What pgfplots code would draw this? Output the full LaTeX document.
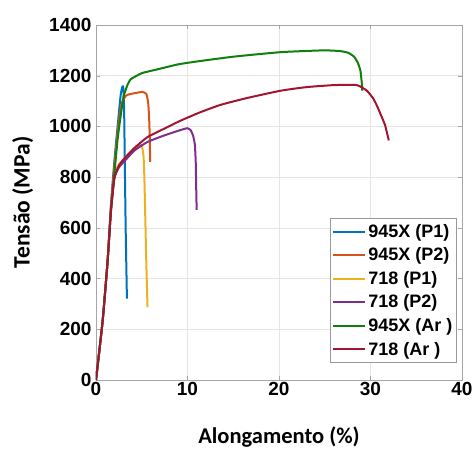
\documentclass[border=0pt]{standalone}
\usepackage{fontspec}
\setmainfont{Liberation Sans}
\newfontfamily\calibri{Carlito}
\usepackage{pgfplots}
\pgfplotsset{compat=1.18}
\definecolor{c1}{rgb}{0,0.447,0.741}
\definecolor{c2}{rgb}{0.85,0.325,0.098}
\definecolor{c3}{rgb}{0.929,0.694,0.125}
\definecolor{c4}{rgb}{0.494,0.184,0.556}
\definecolor{c5}{rgb}{0.05,0.5,0.05}
\definecolor{c6}{rgb}{0.635,0.078,0.184}
\pgfplotstableread{
x y
0 0
0.73 235
1.27 470
1.63 690
2.0 860
2.36 1000
2.7 1125
2.9 1158
3.0 1150
3.08 1050
3.16 820
3.25 580
3.38 321
}\tblue
\begin{document}
\begin{tikzpicture}
\begin{axis}[
  scale only axis,
  width=366pt, height=355pt,
  xmin=0, xmax=40, ymin=0, ymax=1400,
  xtick={0,10,...,40}, ytick={0,200,...,1400},
  /pgf/number format/assume math mode=true,
  /pgf/number format/1000 sep={},
  ticklabel style={font=\fontsize{19}{19}\selectfont\bfseries},
  xticklabel style={yshift=1pt},
  yticklabel style={xshift=-1pt},
  grid=major,
  major grid style={gray!20, line width=0.5pt},
  axis line style={gray!70, line width=0.8pt},
  tick style={gray!70},
  tick align=inside,
  major tick length=4pt,
  xlabel={\calibri\fontsize{22.5}{22.5}\selectfont\bfseries Alongamento (\%)},
  ylabel={\calibri\fontsize{23.5}{23.5}\selectfont\bfseries Tensão (MPa)},
  xlabel style={at={(axis description cs:0.5,0)}, anchor=base, yshift=-63pt},
  ylabel style={at={(axis description cs:-0.2,0.5)}, anchor=center},
  legend style={at={(0.986,0.048)}, anchor=south east, draw=gray!80, line width=0.8pt,
    font=\fontsize{18}{18}\selectfont\bfseries, row sep=5pt, inner xsep=2pt, inner ysep=4pt,
    /tikz/every even column/.append style={column sep=2pt}},
  legend cell align=left,
  legend image code/.code={\draw[#1, line width=2pt] (0cm,0cm) -- (32pt,0cm);},
]
\addlegendimage{c1}
\addlegendentry{945X (P1)}
\addlegendimage{c2}
\addlegendentry{945X (P2)}
\addlegendimage{c3}
\addlegendentry{718 (P1)}
\addlegendimage{c4}
\addlegendentry{718 (P2)}
\addlegendimage{c5}
\addlegendentry{945X (Ar )}
\addlegendimage{c6}
\addlegendentry{718 (Ar )}
\addplot[c1, line width=2pt, smooth, tension=0.3, forget plot] table {\tblue};
\addplot[c2, line width=2pt, smooth, tension=0.3, forget plot] coordinates {(0,0) (0.73,235) (1.27,470) (1.63,680) (2.0,840) (2.4,990) (2.8,1090) (3.3,1122) (3.8,1128) (4.5,1133) (5.09,1136) (5.5,1128) (5.7,1095) (5.81,1030) (5.88,950) (5.92,860)};
\addplot[c3, line width=2pt, smooth, tension=0.3, forget plot] coordinates {(0,0) (0.73,235) (1.27,470) (1.63,665) (2.0,795) (2.4,845) (3.0,870) (3.8,900) (4.6,925) (5.0,925) (5.2,880) (5.3,780) (5.4,620) (5.5,460) (5.63,287)};
\addplot[c4, line width=2pt, smooth, tension=0.3, forget plot] coordinates {(0,0) (0.73,235) (1.27,470) (1.63,665) (2.0,795) (2.5,838) (3.09,862) (4.2,905) (5.63,939) (7.5,965) (9.26,986) (9.99,993) (10.35,985) (10.6,965) (10.8,930) (10.9,860) (10.95,760) (11.0,671)};
\addplot[c5, line width=2pt, smooth, tension=0.3, forget plot] coordinates {(0,0) (0.73,235) (1.27,470) (1.63,665) (2.0,810) (2.35,945) (2.65,1030) (3.0,1115) (3.4,1160) (3.8,1186) (5,1210) (6.7,1225) (9,1245) (11.4,1258) (15,1275) (20.2,1293) (24.9,1300) (26.7,1297) (27.6,1290) (28.2,1275) (28.6,1252) (28.9,1220) (29.05,1170) (29.1,1141)};
\addplot[c6, line width=2pt, smooth, tension=0.3, forget plot] coordinates {(0,0) (0.73,235) (1.27,470) (1.63,665) (2.0,795) (2.5,845) (3.09,873) (4.2,915) (5.63,958) (7.5,992) (9.26,1023) (11.4,1056) (13.6,1085) (16.5,1112) (20.2,1141) (23,1155) (26.0,1163) (28.5,1163) (29.6,1141) (30.3,1110) (30.7,1082) (31.2,1040) (31.6,1004) (32.0,945)};
\end{axis}
\pgfresetboundingbox
\path[use as bounding box] ([shift={(-96pt,-68pt)}]current axis.south west) rectangle ([shift={(14pt,25pt)}]current axis.north east);
\end{tikzpicture}
\end{document}
